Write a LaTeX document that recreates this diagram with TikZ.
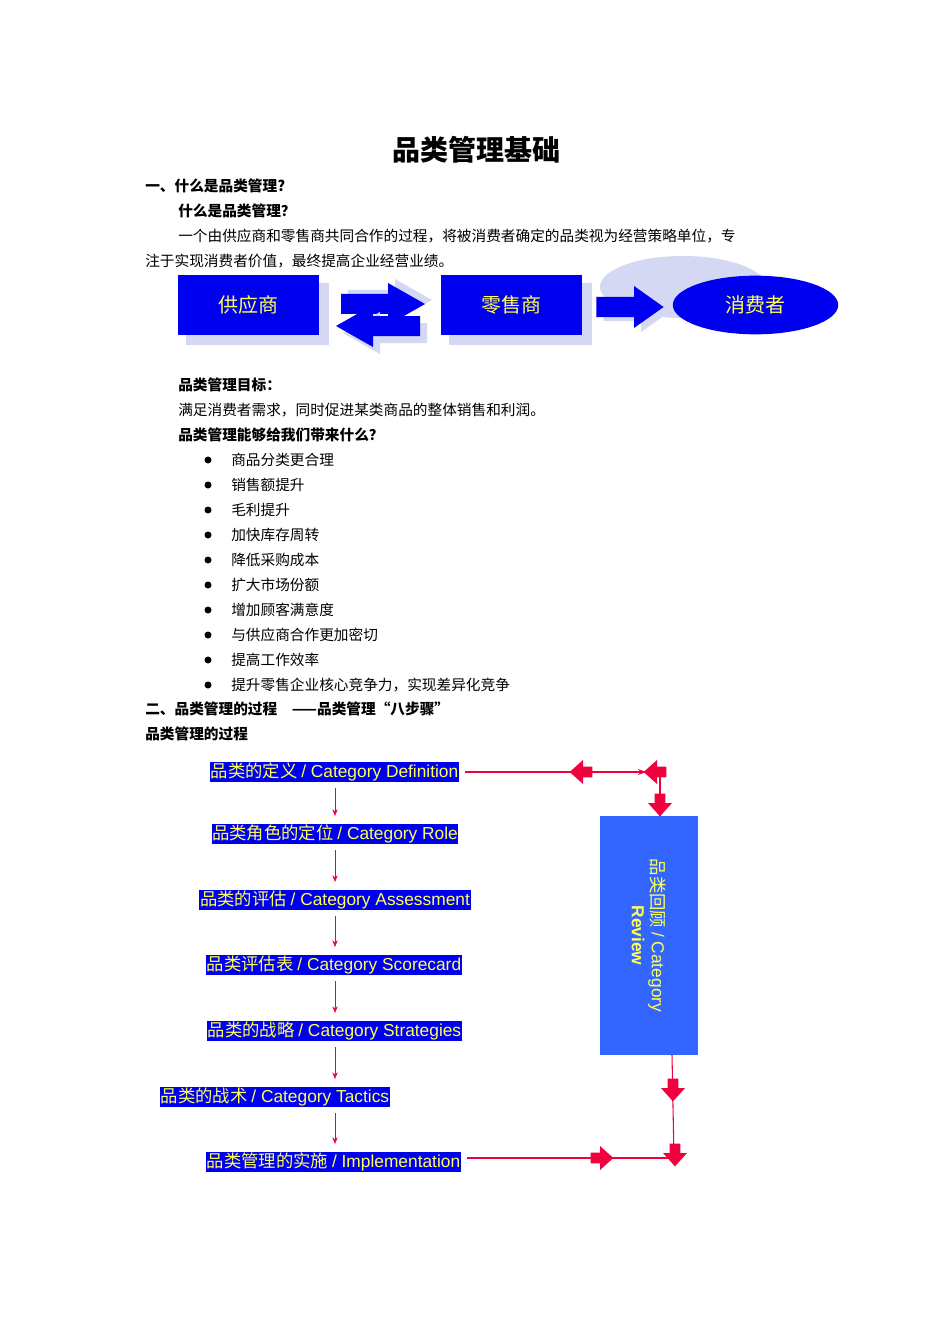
\documentclass[tikz,border=0pt]{standalone}
\usepackage{fontspec}
\setmainfont{Liberation Serif}
\setsansfont{Liberation Sans}
\newfontfamily\cjk{Noto Sans CJK SC}
\usetikzlibrary{shapes.geometric,arrows.meta}
\definecolor{bblue}{HTML}{0000F0}
\definecolor{ylw}{HTML}{FFFF55}
\definecolor{shad}{HTML}{D4D8F2}
\definecolor{rbox}{HTML}{3366FF}
\definecolor{rred}{HTML}{F0003C}
\newcommand\blk[2]{\fill[rred,shift={#1},rotate=#2,x=1,y=1] (-7,-4)--(0,-4)--(0,-9)--(10,0)--(0,9)--(0,4)--(-7,4)--cycle;}
\newcommand\bigarr[3]{\fill[#3,shift={#1},xscale=#2] (-42,-10)--(5,-10)--(5,-21)--(42,0)--(5,21)--(5,10)--(-42,10)--cycle;}
\begin{document}
\begin{tikzpicture}[x=0.75pt,y=-0.75pt,
  txt/.style={anchor=west,inner sep=0,font=\cjk\fontsize{11}{13}\selectfont},
  btxt/.style={txt,font=\cjk\bfseries\fontsize{11}{13}\selectfont},
  bigbox/.style={fill=bblue,minimum width=106pt,minimum height=45pt,inner sep=0,font=\cjk\fontsize{15}{17}\selectfont,text=ylw},
  lab/.style={fill=bblue,text=ylw,inner sep=0.5pt,font=\cjk\fontsize{13}{15}\selectfont},
  flow/.style={draw=rred,-{Stealth[length=5pt,width=4pt]}},
  rline/.style={draw=rred,line width=0.8pt}]
\useasboundingbox (0,0) rectangle (950,1344);
\node[font=\cjk\bfseries\fontsize{21}{24}\selectfont] (title) at (476,150) {品类管理基础};
\node[btxt] (h1) at (145,186) {一、什么是品类管理?};
\node[btxt] (h1a) at (178,211) {什么是品类管理？};
\node[txt] (p1) at (178,236) {一个由供应商和零售商共同合作的过程，将被消费者确定的品类视为经营策略单位，专};
\node[txt] (p2) at (145,261) {注于实现消费者价值，最终提高企业经营业绩。};
% top diagram
\fill[shad] (186,283) rectangle (329,345);
\fill[shad] (449,283) rectangle (592,345);
\fill[shad] (683,287) ellipse (83 and 31);
\fill[shad] (686,287) ellipse (80 and 30);
\node[bigbox] (sup) at (248.5,305) {供应商};
\node[bigbox] (ret) at (511.5,305) {零售商};
\node[ellipse,fill=bblue,minimum width=124pt,minimum height=44pt,inner sep=0,font=\cjk\fontsize{15}{17}\selectfont,text=ylw] (con) at (755.5,305) {消费者};
\bigarr{(390,300)}{1}{shad}
\bigarr{(383,304)}{1}{bblue}
\bigarr{(385,333)}{-1}{shad}
\bigarr{(378,326)}{-1}{bblue}
\bigarr{(637,311)}{0.8}{shad}
\bigarr{(630,307)}{0.8}{bblue}
% text
\node[btxt] (h2) at (178,385) {品类管理目标：};
\node[txt] (p3) at (178,410) {满足消费者需求，同时促进某类商品的整体销售和利润。};
\node[btxt] (h3) at (178,435) {品类管理能够给我们带来什么？};
\foreach \t [count=\i] in {商品分类更合理, 销售额提升,毛利提升,加快库存周转,降低采购成本,扩大市场份额,增加顾客满意度,与供应商合作更加密切,提高工作效率,提升零售企业核心竞争力，实现差异化竞争}{
  \fill (208,{435+25*\i}) circle (3.5);
  \node[txt] (b\i) at (231,{435+25*\i}) {\t};
}
\node[btxt] (h4) at (145,709) {二、品类管理的过程\quad ——品类管理“八步骤”};
\node[btxt] (h5) at (145,734) {品类管理的过程};
% process
\node[lab] (s1) at (334.5,772) {品类的定义 {\sffamily / Category Definition}};
\node[lab] (s2) at (335,834) {品类角色的定位 {\sffamily / Category Role}};
\node[lab] (s3) at (335,900) {品类的评估 {\sffamily / Category Assessment}};
\node[lab] (s4) at (334,965) {品类评估表 {\sffamily / Category Scorecard}};
\node[lab] (s5) at (334.5,1031) {品类的战略 {\sffamily / Category Strategies}};
\node[lab] (s6) at (275,1097) {品类的战术 {\sffamily / Category Tactics}};
\node[lab] (s7) at (333.5,1162) {品类管理的实施 {\sffamily / Implementation}};
\foreach \a/\b in {s1/s2,s2/s3,s3/s4,s4/s5,s5/s6,s6/s7}
  \draw[flow] (335,0 |- \a.south) ++(0,6) -- ([yshift=6pt]335,0 |- \b.north);
\node[fill=rbox,minimum width=73.5pt,minimum height=179pt,inner sep=0] (rev) at (649,935.5) {};
\node[rotate=-90,text=ylw,align=center,font=\cjk\fontsize{13}{15}\selectfont] (revt) at (rev.center) {品类回顾 {\sffamily / Category}\\ {\sffamily\bfseries Review}};
\coordinate (tr) at (660,772);
\coordinate (br) at (674,1158);
\draw[rline] (s1.east) ++(6,0) -- (tr);
\draw[rline,-{Stealth[length=6pt]}] (600,772) -- (646,772);
\draw[rline] (rev.north -| tr) -- (tr);
\draw[rline] (rev.south -| 672,0) -- (br);
\draw[rline] (s7.east) ++(6,-4) -- (br);
\blk{(583,772)}{180}
\blk{(657,772)}{180}
\blk{(660,803)}{-90}
\blk{(673,1088)}{-90}
\blk{(675,1153)}{-90}
\blk{(600,1158)}{0}
\end{tikzpicture}
\end{document}
